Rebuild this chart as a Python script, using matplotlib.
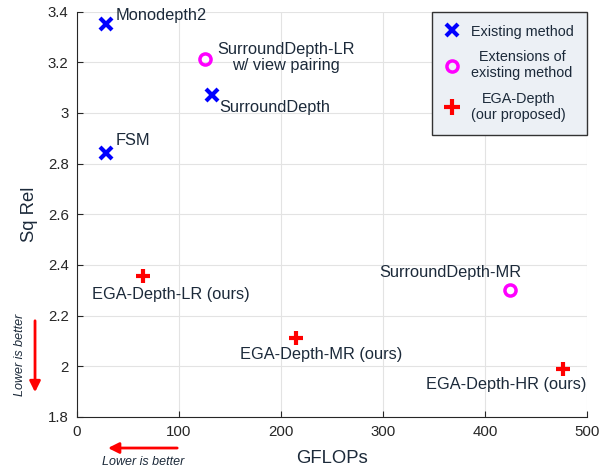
import matplotlib

matplotlib.use("Agg")
import matplotlib.pyplot as plt
from matplotlib.lines import Line2D

plt.rcParams["font.family"] = ["Liberation Sans", "DejaVu Sans"]

TEXT = "#1c2a3a"

# existing methods
exist_names = ["Monodepth2", "FSM", "SurroundDepth"]
exist_gflops = [28.2, 28.2, 132.0]
exist_sqrel = [3.35, 2.843, 3.069]

# extensions of existing methods
ext_names = ["SurroundDepth-LR\nw/ view pairing", "SurroundDepth-MR"]
ext_gflops = [125.5, 424.5]
ext_sqrel = [3.212, 2.30]

# proposed
ours_names = ["EGA-Depth-LR (ours)", "EGA-Depth-MR (ours)", "EGA-Depth-HR (ours)"]
ours_gflops = [64.5, 215.0, 476.5]
ours_sqrel = [2.355, 2.112, 1.99]

x_ticks = [0, 100, 200, 300, 400, 500]
y_ticks = [1.8, 2.0, 2.2, 2.4, 2.6, 2.8, 3.0, 3.2, 3.4]
y_ticklabels = ["1.8", "2", "2.2", "2.4", "2.6", "2.8", "3", "3.2", "3.4"]

# label offsets in pixels (dx, dy, ha)
exist_off = [(10, 9, "left"), (10, 12, "left"), (8, -12, "left")]
ext_off = [(12, 2, "left"), (-60, 18, "center")]
ours_off = [(28, -18, "center"), (25, -17, "center"), (-57, -16, "center")]


def main() -> None:
    fig = plt.figure(figsize=(6.08, 4.68), dpi=100)
    ax = fig.add_axes([0.1266, 0.109, 0.8389, 0.8664])

    ax.plot(exist_gflops, exist_sqrel, "x", color="#0000ff", ms=8, mew=3, ls="none")
    ax.plot(ext_gflops, ext_sqrel, "o", color="#ff00ff", mfc="none", ms=8, mew=2.5, ls="none")
    ax.plot(ours_gflops, ours_sqrel, "+", color="#ff0000", ms=10.5, mew=3, ls="none")

    for names, xs, ys, offs in [
        (exist_names, exist_gflops, exist_sqrel, exist_off),
        (ext_names, ext_gflops, ext_sqrel, ext_off),
        (ours_names, ours_gflops, ours_sqrel, ours_off),
    ]:
        for n, x, y, (dx, dy, ha) in zip(names, xs, ys, offs):
            ax.annotate(
                n, (x, y), xytext=(dx, dy), textcoords="offset pixels",
                ha=ha, va="center", multialignment="center",
                fontsize=11.8, color=TEXT, linespacing=1.1,
            )

    ax.set_xlim(0, 500)
    ax.set_ylim(1.8, 3.4)
    ax.set_xticks(x_ticks)
    ax.set_yticks(y_ticks)
    ax.set_yticklabels(y_ticklabels)
    ax.grid(True, color="#e3e3e3", lw=0.8)
    ax.set_axisbelow(True)
    ax.spines["top"].set_visible(False)
    ax.spines["right"].set_visible(False)
    for s in ("left", "bottom"):
        ax.spines[s].set_color("#262626")
        ax.spines[s].set_linewidth(0.8)
    ax.tick_params(direction="in", length=4, labelsize=10.8, colors="#262626", pad=6)

    ax.set_xlabel("GFLOPs", fontsize=13.3, color=TEXT, labelpad=8)
    ax.set_ylabel("Sq Rel", fontsize=13.3, color=TEXT, labelpad=7)

    handles = [
        Line2D([], [], marker="x", color="#0000ff", ms=8, mew=3, ls="none"),
        Line2D([], [], marker="o", color="#ff00ff", mfc="none", ms=8, mew=2.5, ls="none"),
        Line2D([], [], marker="+", color="#ff0000", ms=11, mew=3, ls="none"),
    ]
    labels = ["Existing method", "Extensions of\nexisting method", "EGA-Depth\n(our proposed)"]
    leg = ax.legend(
        handles, labels, loc="upper right", bbox_to_anchor=(1.0, 1.0),
        borderaxespad=0, fontsize=10.4, fancybox=False, framealpha=1,
        handletextpad=0.8, labelspacing=0.8, borderpad=0.9, handlelength=1.0,
    )
    leg.get_frame().set_facecolor("#ecf0f5")
    leg.get_frame().set_edgecolor("#333333")
    for t in leg.get_texts():
        t.set_multialignment("center")
        t.set_color(TEXT)

    # "lower is better" arrows
    fig.add_artist(plt.Annotation(
        "", xy=(0.0576, 0.156), xytext=(0.0576, 0.3205), xycoords="figure fraction",
        arrowprops=dict(arrowstyle="-|>", color="#ff0000", lw=2, mutation_scale=16),
    ))
    fig.text(0.033, 0.241, "Lower is better", rotation=90, ha="center", va="center",
             fontsize=9, style="italic", color=TEXT)
    fig.add_artist(plt.Annotation(
        "", xy=(0.173, 0.0427), xytext=(0.296, 0.0427), xycoords="figure fraction",
        arrowprops=dict(arrowstyle="-|>", color="#ff0000", lw=2, mutation_scale=16),
    ))
    fig.text(0.235, 0.013, "Lower is better", ha="center", va="center",
             fontsize=9, style="italic", color=TEXT)

    fig.savefig("out.png", dpi=100)
    plt.close(fig)


if __name__ == "__main__":
    main()
